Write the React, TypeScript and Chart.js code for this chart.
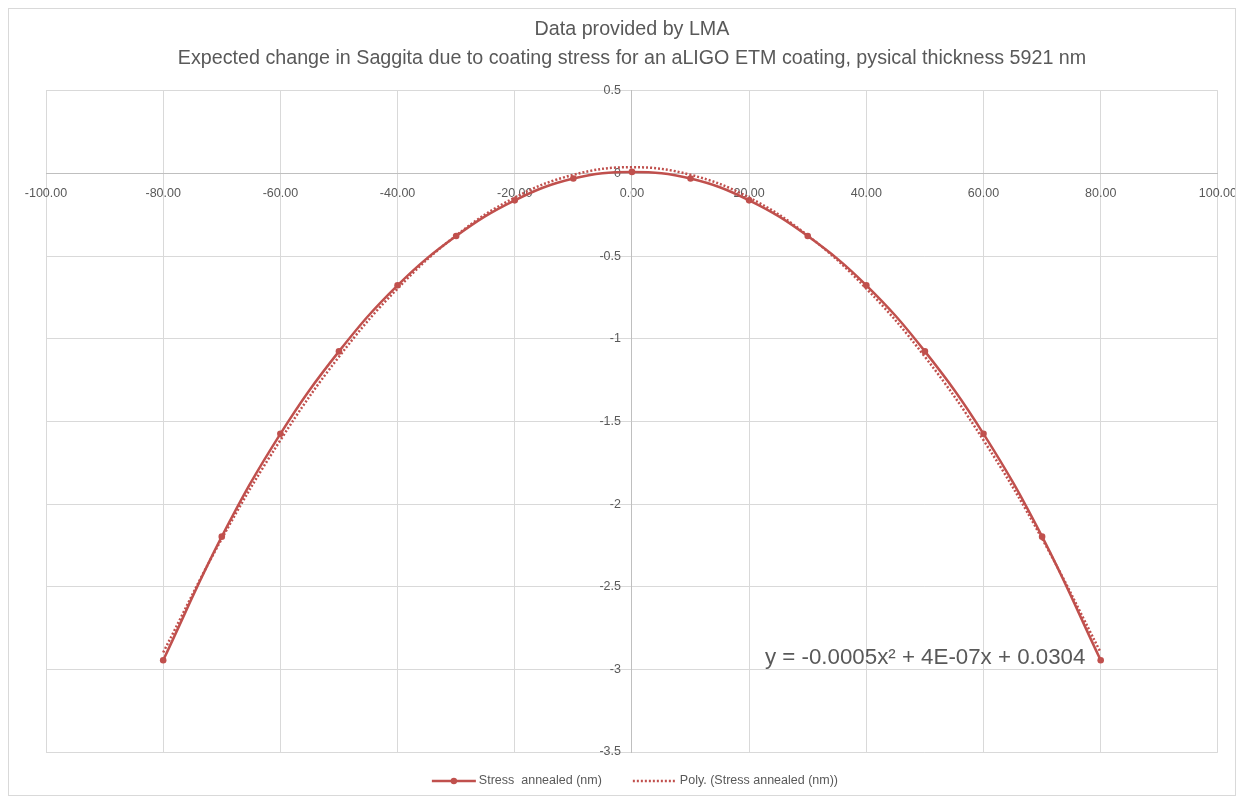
import React, { useEffect, useRef } from 'react';
import { Chart, registerables } from 'chart.js';

Chart.register(...registerables);

const TITLE_LINES = [
  'Data provided by LMA',
  'Expected change in Saggita due to coating stress for an aLIGO ETM coating, pysical thickness 5921 nm',
];
const POSITIONS = [-80, -70, -60, -50, -40, -30, -20, -10, 0, 10, 20, 30, 40, 50, 60, 70, 80];
const STRESS_ANNEALED = [
  -2.945, -2.197, -1.575, -1.076, -0.676, -0.378, -0.162, -0.03, 0.01,
  -0.03, -0.162, -0.378, -0.676, -1.076, -1.575, -2.197, -2.945,
];
const X_TICKS = [-100, -80, -60, -40, -20, 0, 20, 40, 60, 80, 100];
const Y_TICKS = [0.5, 0, -0.5, -1, -1.5, -2, -2.5, -3, -3.5];
const SERIES_LABEL = 'Stress  annealed (nm)';
const TREND_LABEL = 'Poly. (Stress annealed (nm))';
const TREND_EQUATION = 'y = -0.0005x\u00B2 + 4E-07x + 0.0304';

// Least-squares quadratic fit (what the spreadsheet's polynomial trendline does)
function quadFit(xs: number[], ys: number[]) {
  let s0 = 0, s1 = 0, s2 = 0, s3 = 0, s4 = 0, t0 = 0, t1 = 0, t2 = 0;
  for (let i = 0; i < xs.length; i++) {
    const x = xs[i], y = ys[i];
    s0 += 1; s1 += x; s2 += x * x; s3 += x * x * x; s4 += x * x * x * x;
    t0 += y; t1 += x * y; t2 += x * x * y;
  }
  const M = [
    [s4, s3, s2, t2],
    [s3, s2, s1, t1],
    [s2, s1, s0, t0],
  ];
  for (let c = 0; c < 3; c++) {
    let p = c;
    for (let r = c + 1; r < 3; r++) if (Math.abs(M[r][c]) > Math.abs(M[p][c])) p = r;
    [M[c], M[p]] = [M[p], M[c]];
    for (let r = 0; r < 3; r++) {
      if (r === c) continue;
      const f = M[r][c] / M[c][c];
      for (let k = c; k < 4; k++) M[r][k] -= f * M[c][k];
    }
  }
  return { a: M[0][3] / M[0][0], b: M[1][3] / M[1][1], c: M[2][3] / M[2][2] };
}

const RED = '#c0504d';
const TEXT = '#595959';
const FONT = "'Liberation Sans', Arial, sans-serif";

export default function App() {
  const ref = useRef<HTMLCanvasElement | null>(null);

  useEffect(() => {
    if (!ref.current) return;
    const fit = quadFit(POSITIONS, STRESS_ANNEALED);
    const trend = POSITIONS.map((x) => fit.a * x * x + fit.b * x + fit.c);

    const overlay = {
      id: 'overlay',
      afterDatasetsDraw(chart: any) {
        const { ctx, scales, chartArea } = chart;
        ctx.save();
        ctx.fillStyle = TEXT;
        ctx.font = `22.3px ${FONT}`;
        ctx.textBaseline = 'alphabetic';
        ctx.textAlign = 'left';
        ctx.fillText(TREND_EQUATION, scales.x.getPixelForValue(22.7), scales.y.getPixelForValue(-2.965));
        ctx.restore();

        ctx.save();
        ctx.font = `12.5px ${FONT}`;
        const lineLen = 44;
        const gapText = 3;
        const gapItems = 31;
        const w1 = ctx.measureText(SERIES_LABEL).width;
        const w2 = ctx.measureText(TREND_LABEL).width;
        const total = lineLen + gapText + w1 + gapItems + lineLen + gapText + w2;
        let x = (chartArea.left + chartArea.right) / 2 + 3 - total / 2;
        const y = chartArea.bottom + 29;
        ctx.strokeStyle = RED;
        ctx.fillStyle = RED;
        ctx.lineWidth = 2.5;
        ctx.beginPath();
        ctx.moveTo(x, y);
        ctx.lineTo(x + lineLen, y);
        ctx.stroke();
        ctx.beginPath();
        ctx.arc(x + lineLen / 2, y, 3.2, 0, Math.PI * 2);
        ctx.fill();
        x += lineLen + gapText;
        ctx.fillStyle = TEXT;
        ctx.textBaseline = 'middle';
        ctx.fillText(SERIES_LABEL, x, y);
        x += w1 + gapItems;
        ctx.setLineDash([2, 2]);
        ctx.beginPath();
        ctx.moveTo(x, y);
        ctx.lineTo(x + lineLen, y);
        ctx.stroke();
        ctx.setLineDash([]);
        x += lineLen + gapText;
        ctx.fillText(TREND_LABEL, x, y);
        ctx.restore();
      },
    };

    const chart = new Chart(ref.current, {
      type: 'line',
      data: {
        datasets: [
          {
            label: TREND_LABEL,
            data: POSITIONS.map((x, i) => ({ x, y: trend[i] })),
            borderColor: RED,
            borderWidth: 2.5,
            borderDash: [2, 2],
            pointRadius: 0,
            tension: 0.4,
            fill: false,
            order: 0,
          },
          {
            label: SERIES_LABEL,
            data: POSITIONS.map((x, i) => ({ x, y: STRESS_ANNEALED[i] })),
            borderColor: RED,
            backgroundColor: RED,
            borderWidth: 2.5,
            pointRadius: 3.3,
            pointBackgroundColor: RED,
            pointBorderColor: RED,
            pointBorderWidth: 0,
            tension: 0.4,
            fill: false,
            order: 1,
          },
        ],
      },
      options: {
        animation: false,
        responsive: false,
        maintainAspectRatio: false,
        layout: { padding: { left: 37, right: 17, top: 0, bottom: 43 } },
        plugins: {
          legend: { display: false },
          tooltip: { enabled: false },
          title: {
            display: true,
            text: TITLE_LINES,
            color: TEXT,
            font: { family: FONT, size: 19.7, weight: 'normal', lineHeight: 1.47 },
            padding: { top: 6, bottom: 18 },
          },
        },
        scales: {
          x: {
            type: 'linear',
            position: { y: 0 } as any,
            min: -100,
            max: 100,
            afterBuildTicks: (s: any) => {
              s.ticks = X_TICKS.map((v) => ({ value: v }));
            },
            ticks: {
              autoSkip: false,
              maxRotation: 0,
              color: TEXT,
              font: { family: FONT, size: 12.5 },
              padding: -2,
              callback: (v: any) => Number(v).toFixed(2),
            },
            grid: {
              color: '#d9d9d9',
              drawTicks: true,
              tickLength: 14,
              tickColor: 'rgba(0,0,0,0)',
              lineWidth: 1,
            },
            border: { color: '#bfbfbf', width: 1 },
          },
          y: {
            type: 'linear',
            position: 'center',
            min: -3.5,
            max: 0.5,
            afterBuildTicks: (s: any) => {
              s.ticks = Y_TICKS.map((v) => ({ value: v }));
            },
            ticks: {
              autoSkip: false,
              color: TEXT,
              font: { family: FONT, size: 12.5 },
              padding: 11,
              callback: (v: any) => String(v),
            },
            grid: { color: '#d9d9d9', drawTicks: false, lineWidth: 1 },
            border: { color: '#bfbfbf', width: 1 },
          },
        },
      },
      plugins: [overlay],
    });
    return () => chart.destroy();
  }, []);

  return (
    <div
      style={{
        width: 1228,
        height: 788,
        border: '1px solid #d9d9d9',
        boxSizing: 'border-box',
        background: '#fff',
      }}
    >
      <canvas ref={ref} width={1226} height={786} style={{ display: 'block' }} />
    </div>
  );
}
